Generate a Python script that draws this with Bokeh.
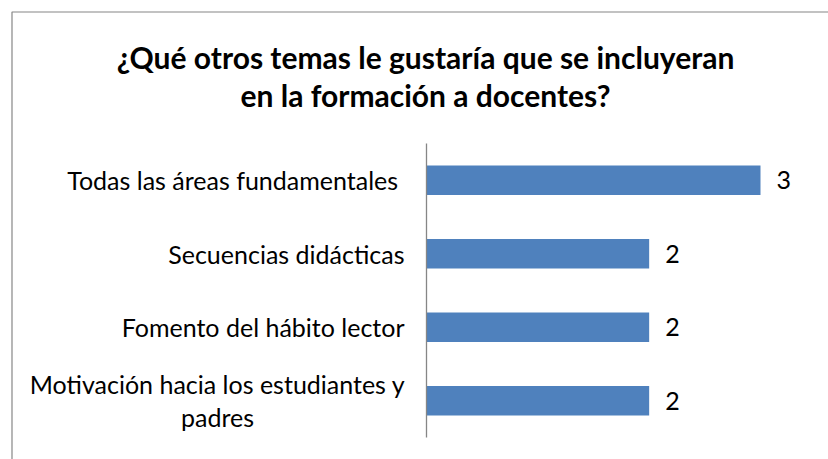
from bokeh.plotting import figure
from bokeh.models import Range1d, BoxAnnotation, Label, ColumnDataSource
from bokeh.core.properties import value
from bokeh.embed import file_html
from bokeh.resources import INLINE

title_lines = ["¿Qué otros temas le gustaría que se incluyeran", "en la formación a docentes?"]
categories = [
    "Motivación hacia los estudiantes y\npadres",
    "Fomento del hábito lector",
    "Secuencias didácticas",
    "Todas las áreas fundamentales ",
]
values = [2, 2, 2, 3]

FONT = "Lato"
LABEL_SIZE = "25px"
W, H = 828, 459

p = figure(width=W, height=H, output_backend="svg", toolbar_location=None,
           x_range=Range1d(-3.7365, 3.6108), y_range=Range1d(-0.7993, 5.3095),
           x_axis_location=None, y_axis_location=None,
           min_border_left=10, min_border_top=10, min_border_bottom=0, min_border_right=0)
p.outline_line_color = None
p.grid.visible = False
p.background_fill_color = "white"
p.border_fill_color = "white"

idx = list(range(len(categories)))
multi = ["\n" in c for c in categories]
src = ColumnDataSource(dict(
    y=idx, val=values, lab=[str(v) for v in values], cat=categories,
    align=["center" if m else "right" for m in multi],
    xoff=[-209 if m else -22 for m in multi],
))

# chart border (left & top visible in the crop)
p.add_layout(BoxAnnotation(left=11.5, top=11.5, right=2000, bottom=2000,
                           left_units="canvas", right_units="canvas", top_units="canvas", bottom_units="canvas",
                           fill_alpha=0, line_color="#868686", line_alpha=1, line_width=1.2, level="underlay"))

p.hbar(y="y", right="val", left=0, height=0.4, source=src, fill_color="#4F81BD", line_color=None)

# vertical category axis line
p.segment(x0=[0], y0=[-0.5], x1=[0], y1=[len(categories) - 0.5], line_color="#868686", line_width=1.3)

p.text(x="val", y="y", text="lab", source=src, x_offset=16, text_align="left", text_baseline="middle",
       text_font=value(FONT), text_font_size=LABEL_SIZE, text_color="black")
p.text(x=0, y="y", text="cat", source=src, x_offset="xoff", text_align="align", text_baseline="middle",
       text_font=value(FONT), text_font_size=LABEL_SIZE, text_color="black", text_line_height=1.1)

for t, yy in zip(title_lines, [56, 94]):
    p.add_layout(Label(x=425, y=yy, x_units="canvas", y_units="canvas", text=t,
                       text_align="center", text_baseline="middle", text_font=FONT,
                       text_font_size="30px", text_font_style="bold", text_color="black"))

open("out.html", "w").write(file_html(p, INLINE))
